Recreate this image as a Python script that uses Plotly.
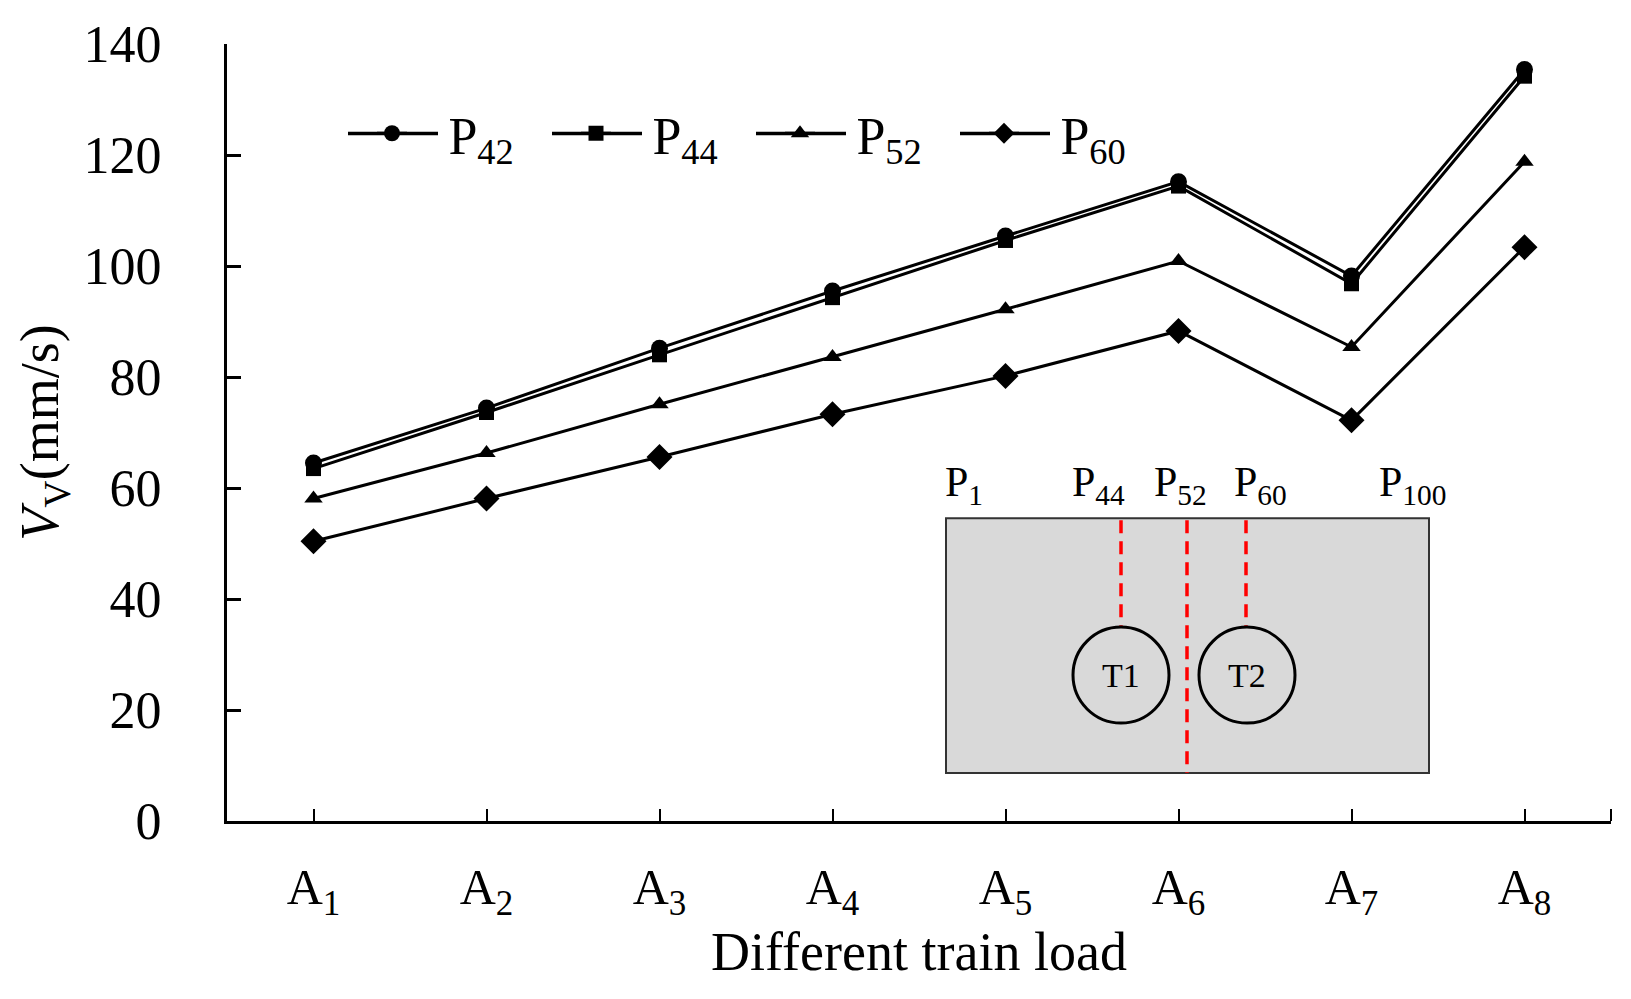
import plotly.graph_objects as go

categories = ["A<sub>1</sub>", "A<sub>2</sub>", "A<sub>3</sub>", "A<sub>4</sub>",
              "A<sub>5</sub>", "A<sub>6</sub>", "A<sub>7</sub>", "A<sub>8</sub>"]
x_pos = [1, 2, 3, 4, 5, 6, 7, 8]

p42 = [64.5, 74.4, 85.2, 95.5, 105.4, 115.2, 98.2, 135.4]
p44 = [63.5, 73.6, 84.0, 94.3, 104.6, 114.4, 96.8, 134.2]
p52 = [58.1, 66.3, 75.1, 83.6, 92.2, 100.9, 85.4, 118.8]
p60 = [50.4, 58.1, 65.6, 73.3, 80.2, 88.3, 72.2, 103.4]

series_names = ["P<sub>42</sub>", "P<sub>44</sub>", "P<sub>52</sub>", "P<sub>60</sub>"]
y_ticks = [0, 20, 40, 60, 80, 100, 120, 140]

inset_labels = ["P<sub>1</sub>", "P<sub>44</sub>", "P<sub>52</sub>", "P<sub>60</sub>", "P<sub>100</sub>"]
tunnel_labels = ["T1", "T2"]

FONT = "Liberation Serif, Times New Roman, serif"

# The page body has an 8px margin: the figure is drawn 8px right/down of the window origin.
OFF = 8
FIG_W, FIG_H = 1631 - 2 * OFF, 999 - 2 * OFF
# plot area in window (screen) pixels
L, R, T, B = 227, 1611, 43.5, 821
W, H = R - L, B - T


def px(xs):
    return (xs - L) / W


def py(ys):
    return (B - ys) / H


legend_ids = ["legend", "legend2", "legend3", "legend4"]
legend_marker_x = [393, 597, 801, 1005]
LEG_Y = 133

fig = go.Figure()
styles = [
    dict(symbol="circle", size=17),
    dict(symbol="square", size=15),
    dict(symbol="triangle-up", size=16),
    dict(symbol="diamond", size=20),
]
for name, vals, st, lid in zip(series_names, [p42, p44, p52, p60], styles, legend_ids):
    fig.add_trace(go.Scatter(
        x=x_pos, y=vals, name="\u00a0\u00a0\u2009" + name, mode="lines+markers",
        line=dict(color="black", width=3),
        marker=dict(color="black", symbol=st["symbol"], size=st["size"]),
        legend=lid,
    ))

shapes = []
# inset rectangle
shapes.append(dict(type="rect", xref="paper", yref="paper",
                   x0=px(946), x1=px(1429), y0=py(773), y1=py(518),
                   fillcolor="#d9d9d9", line=dict(color="#333333", width=2), layer="above"))
# dashed red lines
for xl, ybot in [(1121, 627), (1187, 773), (1246, 627)]:
    shapes.append(dict(type="line", xref="paper", yref="paper",
                       x0=px(xl), x1=px(xl), y0=py(520), y1=py(ybot),
                       line=dict(color="#ff0000", width=3.5, dash="13px,8px"), layer="above"))
# tunnels
r = 48
for cx in [1121, 1247]:
    shapes.append(dict(type="circle", xref="paper", yref="paper",
                       x0=px(cx - r), x1=px(cx + r), y0=py(675 + r), y1=py(675 - r),
                       line=dict(color="black", width=3), fillcolor="rgba(0,0,0,0)", layer="above"))
# right end tick of x axis
shapes.append(dict(type="line", xref="paper", yref="paper",
                   x0=1, x1=1, y0=0, y1=py(809), line=dict(color="black", width=2)))
# longer legend line samples
for mc in legend_marker_x:
    shapes.append(dict(type="line", xref="paper", yref="paper",
                       x0=px(mc - 45), x1=px(mc + 45), y0=py(LEG_Y), y1=py(LEG_Y),
                       line=dict(color="black", width=3.5), layer="above"))

annotations = []
for lab, xc in zip(inset_labels, [964, 1098, 1180, 1260, 1412]):
    annotations.append(dict(xref="paper", yref="paper", x=px(xc), y=py(485),
                            text=lab, showarrow=False, xanchor="center", yanchor="middle",
                            font=dict(family=FONT, size=42, color="black")))
for lab, xc in zip(tunnel_labels, [1121, 1247]):
    annotations.append(dict(xref="paper", yref="paper", x=px(xc), y=py(675),
                            text=lab, showarrow=False, xanchor="center", yanchor="middle",
                            font=dict(family=FONT, size=34, color="black")))

legend_layouts = {}
for lid, mc in zip(legend_ids, legend_marker_x):
    legend_layouts[lid] = dict(orientation="h", x=px(mc - 21), y=py(LEG_Y),
                               xanchor="left", yanchor="middle",
                               font=dict(family=FONT, size=52, color="black"),
                               bgcolor="rgba(0,0,0,0)")

fig.update_layout(
    width=FIG_W, height=FIG_H,
    margin=dict(l=L - OFF, r=FIG_W - (R - OFF), t=T - OFF, b=FIG_H - (B - OFF)),
    paper_bgcolor="white", plot_bgcolor="white",
    font=dict(family=FONT, color="black", size=46),
    showlegend=True,
    shapes=shapes,
    annotations=annotations,
    xaxis=dict(range=[0.5, 8.5], tickmode="array", tickvals=x_pos, ticktext=categories,
               automargin=False,
               ticks="inside", ticklen=12, tickwidth=2, tickcolor="black",
               showline=True, linecolor="black", linewidth=3, showgrid=False, zeroline=False,
               tickfont=dict(family=FONT, size=50), ticklabelstandoff=20,
               title=dict(text="Different train load", font=dict(family=FONT, size=54), standoff=2)),
    yaxis=dict(range=[0, 140], tickmode="array", tickvals=y_ticks,
               automargin=False,
               ticks="inside", ticklen=14, tickwidth=3, tickcolor="black",
               showline=True, linecolor="black", linewidth=3, showgrid=False, zeroline=False,
               tickfont=dict(family=FONT, size=52), ticklabelstandoff=52,
               title=dict(text="<i>V</i><sub>V</sub>(mm/s)", font=dict(family=FONT, size=54), standoff=8)),
    **legend_layouts,
)

fig.write_html("out.html")
